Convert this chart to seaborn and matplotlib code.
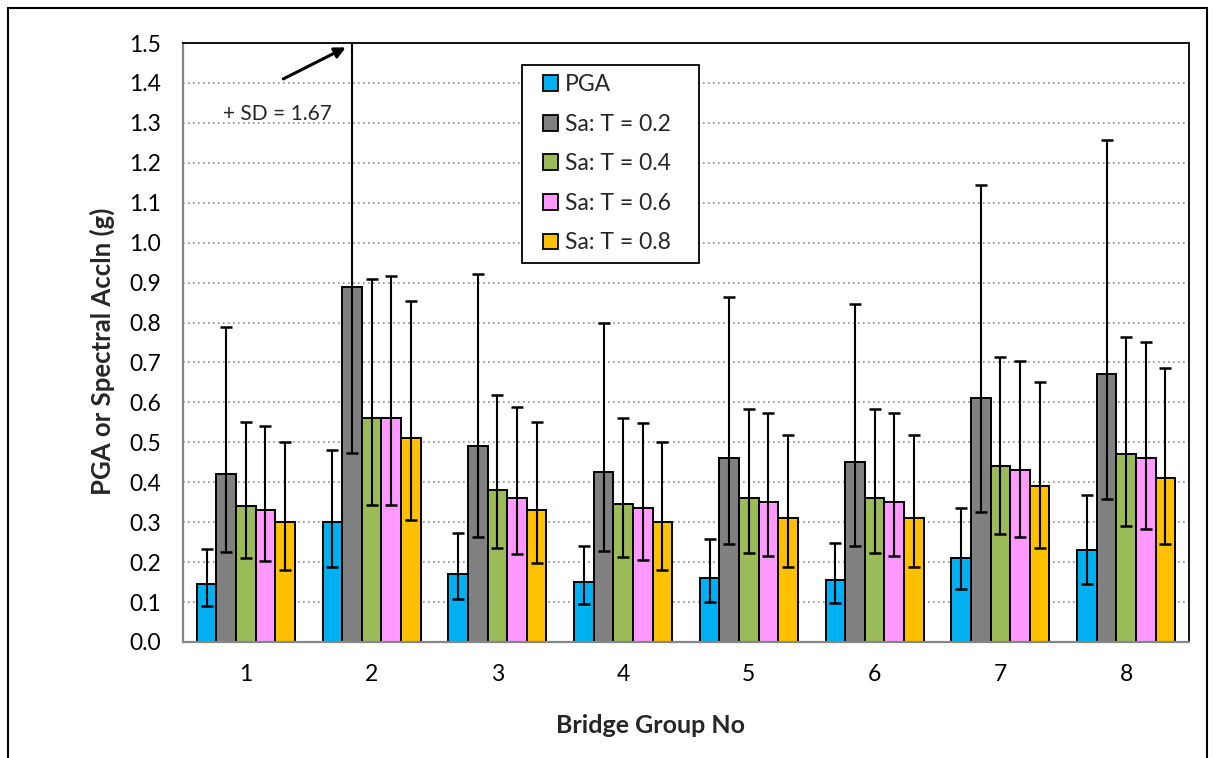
import numpy as np
import pandas as pd
import matplotlib
matplotlib.use("Agg")
import matplotlib.pyplot as plt
from matplotlib.patches import Rectangle, Patch
from matplotlib.legend_handler import HandlerPatch
from matplotlib.ticker import MultipleLocator, FixedLocator
import seaborn as sns

# ---------------- data ----------------
groups = ["1", "2", "3", "4", "5", "6", "7", "8"]
series = ["PGA", "Sa: T = 0.2", "Sa: T = 0.4", "Sa: T = 0.6", "Sa: T = 0.8"]
colors = ["#00B0F0", "#808080", "#9BBB59", "#FF99FF", "#FFC000"]

pga = [0.145, 0.30, 0.17, 0.15, 0.16, 0.155, 0.21, 0.23]
pga_lo = [0.090, 0.188, 0.108, 0.095, 0.101, 0.098, 0.132, 0.144]
pga_hi = [0.233, 0.480, 0.273, 0.241, 0.257, 0.249, 0.336, 0.368]

sa02 = [0.42, 0.89, 0.49, 0.425, 0.46, 0.45, 0.61, 0.67]
sa02_lo = [0.225, 0.474, 0.262, 0.227, 0.245, 0.240, 0.326, 0.357]
sa02_hi = [0.789, 1.67, 0.921, 0.799, 0.865, 0.846, 1.145, 1.257]

sa04 = [0.34, 0.56, 0.38, 0.345, 0.36, 0.36, 0.44, 0.47]
sa04_lo = [0.210, 0.344, 0.235, 0.214, 0.222, 0.222, 0.271, 0.290]
sa04_hi = [0.552, 0.909, 0.618, 0.560, 0.584, 0.584, 0.714, 0.763]

sa06 = [0.33, 0.56, 0.36, 0.335, 0.35, 0.35, 0.43, 0.46]
sa06_lo = [0.203, 0.342, 0.221, 0.205, 0.215, 0.215, 0.264, 0.282]
sa06_hi = [0.540, 0.917, 0.589, 0.548, 0.573, 0.573, 0.703, 0.751]

sa08 = [0.30, 0.51, 0.33, 0.30, 0.31, 0.31, 0.39, 0.41]
sa08_lo = [0.180, 0.305, 0.199, 0.180, 0.187, 0.187, 0.235, 0.246]
sa08_hi = [0.502, 0.853, 0.552, 0.500, 0.518, 0.518, 0.652, 0.685]

means = [pga, sa02, sa04, sa06, sa08]
lows = [pga_lo, sa02_lo, sa04_lo, sa06_lo, sa08_lo]
highs = [pga_hi, sa02_hi, sa04_hi, sa06_hi, sa08_hi]

y_ticks = np.round(np.arange(0, 1.51, 0.1), 1)

df = pd.DataFrame(
    [(g, s, m[i]) for s, m in zip(series, means) for i, g in enumerate(groups)],
    columns=["group", "series", "value"],
)

# ---------------- style ----------------
sns.set_style("white")
plt.rcParams["font.family"] = ["Lato", "DejaVu Sans"]

fig = plt.figure(figsize=(12.15, 7.58), dpi=100)
ax = fig.add_axes([183 / 1215, 1 - 642 / 758, (1189 - 183) / 1215, (642 - 43) / 758])

sns.barplot(
    data=df, x="group", y="value", hue="series", order=groups, hue_order=series,
    palette=colors, errorbar=None, width=0.78, edgecolor="black", linewidth=1.4,
    saturation=1, legend=False, ax=ax, zorder=2,
)

for cont, m, lo, hi in zip(ax.containers, means, lows, highs):
    xs = [p.get_x() + p.get_width() / 2 for p in cont]
    m = np.array(m)
    ax.errorbar(xs, m, yerr=[m - np.array(lo), np.array(hi) - m], fmt="none",
                ecolor="black", elinewidth=1.5, capsize=4.3, capthick=1.8, zorder=3)

ax.set_ylim(0, 1.5)
ax.set_xlim(-0.5, 7.5)
ax.set_yticks(y_ticks)
ax.set_yticklabels([f"{v:.1f}" for v in y_ticks])
ax.yaxis.set_minor_locator(MultipleLocator(0.02))
ax.set_xticks(range(len(groups)))
ax.set_xticklabels(groups)
ax.xaxis.set_minor_locator(FixedLocator(np.arange(-0.5, 8.0, 1.0)))

axis_grey = "#868686"
ax.tick_params(axis="y", which="major", direction="inout", length=12, width=1.3,
               color=axis_grey, labelsize=16.5, pad=10, labelcolor="black")
ax.tick_params(axis="y", which="minor", direction="in", length=5, width=1.1, color=axis_grey)
ax.tick_params(axis="x", which="major", length=0, labelsize=16.5, pad=16, labelcolor="black")
ax.tick_params(axis="x", which="minor", direction="out", length=6, width=1.3, color=axis_grey)

ax.yaxis.grid(True, which="major", linestyle=(0, (1, 2)), color="#8f8f8f", linewidth=1.2)
ax.set_axisbelow(True)

for side in ["left", "bottom"]:
    ax.spines[side].set_color(axis_grey)
    ax.spines[side].set_linewidth(1.6)
for side in ["top", "right"]:
    ax.spines[side].set_color("black")
    ax.spines[side].set_linewidth(1.3)

ax.set_xlabel("Bridge Group No", fontsize=18, fontweight="bold")
ax.set_ylabel("PGA or Spectral Accln (g)", fontsize=18.5, fontweight="bold")
ax.xaxis.set_label_coords((650 - 183) / 1006, -0.12)
ax.yaxis.set_label_coords(-0.068, 0.485)


# ---------------- legend ----------------
def square_patch(legend, orig_handle, xdescent, ydescent, width, height, fontsize):
    s = height * 1.0
    return Rectangle((-xdescent + width - s, -ydescent + (height - s) / 2), s, s)


handles = [Patch(facecolor=c, edgecolor="black", linewidth=1.3) for c in colors]
leg = ax.legend(
    handles, series, loc="upper left",
    bbox_to_anchor=((521.7 - 183) / 1006, (642 - 65) / 599, (699 - 521.7) / 1006, 0.0),
    mode="expand", fontsize=16.5, frameon=True, fancybox=False, framealpha=1,
    edgecolor="black", borderpad=0.4, labelspacing=0.81, handlelength=1.2,
    handleheight=0.68, handletextpad=0.3, borderaxespad=0,
    handler_map={Patch: HandlerPatch(patch_func=square_patch)},
)
leg.get_frame().set_linewidth(1.3)

# ---------------- annotation ----------------
ax.annotate("", xy=(0.794, 1.489), xytext=(0.2976, 1.41),
            arrowprops=dict(arrowstyle="-|>", lw=2.2, color="black", mutation_scale=16,
                            shrinkA=0, shrinkB=0))
ax.text(0.2475, 1.322, "+ SD = 1.67", fontsize=15, ha="center", va="center")

# outer chart border
fig.patches.append(Rectangle((8 / 1215, -0.05), (1207 - 8) / 1215, 1.05 - 8 / 758,
                             transform=fig.transFigure, fill=False,
                             edgecolor="black", linewidth=1.5))

fig.savefig("out.png", dpi=100)
